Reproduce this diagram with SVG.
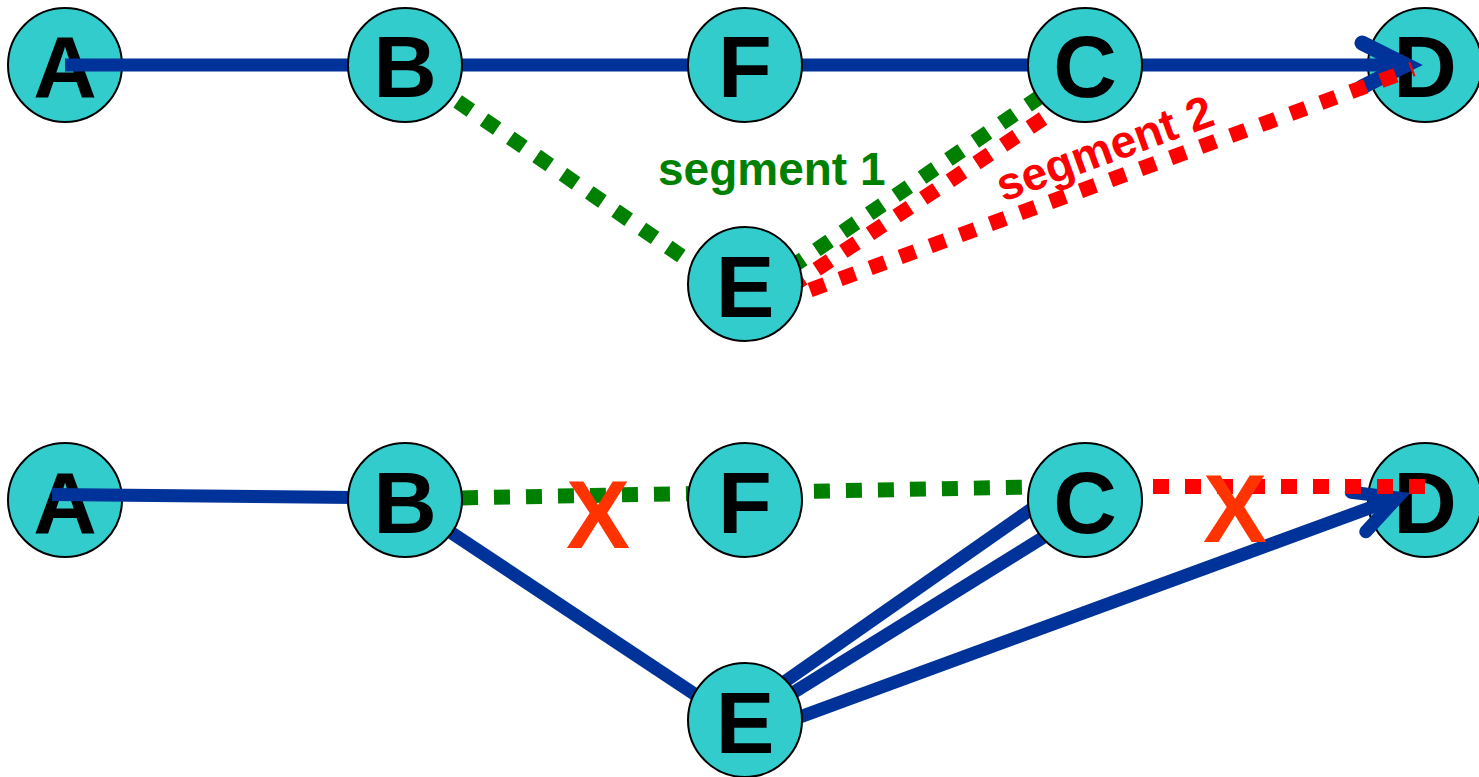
<svg xmlns="http://www.w3.org/2000/svg" width="1479" height="777" viewBox="0 0 1479 777">
<defs>
<style>
.node circle{fill:#33CCCC;stroke:#000;stroke-width:2}
.node text{font-family:"Liberation Sans",Arial,sans-serif;font-weight:bold;font-size:88px;text-anchor:middle;fill:#000}
.blue{stroke:#003399;fill:none;stroke-width:13}
.dot{fill:none;stroke-width:15;stroke-dasharray:16 16}
.green{stroke:#008000}
.red{stroke:#FF0000}
.seg{font-family:"Liberation Sans",Arial,sans-serif;font-weight:bold;font-size:46px}
.xmark{font-family:"Liberation Sans",Arial,sans-serif;font-weight:bold;font-size:96px;fill:#FF3300;text-anchor:middle}
</style>
<marker id="arrowTop" markerUnits="userSpaceOnUse" viewBox="-60 -30 70 60" markerWidth="70" markerHeight="60" refX="0" refY="0" orient="auto" overflow="visible">
<path d="M-44,-22 L0,0 L-44,22" fill="none" stroke="#003399" stroke-width="15" stroke-linecap="round" stroke-linejoin="miter"/>
</marker>
<marker id="arrowBot" markerUnits="userSpaceOnUse" viewBox="-60 -30 70 60" markerWidth="70" markerHeight="60" refX="0" refY="0" orient="auto" overflow="visible">
<path d="M-41,-21 L0,0 L-41,21" fill="none" stroke="#003399" stroke-width="13" stroke-linecap="round" stroke-linejoin="miter"/>
</marker>
</defs>
<rect width="1479" height="777" fill="#fff"/>

<g id="top-A" class="node"><circle cx="65" cy="65" r="57"/><text x="65" y="97">A</text></g>
<g id="top-D" class="node"><circle cx="1425" cy="65" r="57"/><text x="1425" y="97">D</text></g>
<g id="bot-A" class="node"><circle cx="65" cy="500" r="57"/><text x="65" y="533">A</text></g>
<g id="bot-D" class="node"><circle cx="1425" cy="500" r="57"/><text x="1425" y="533">D</text></g>

<g id="connectors">
<line class="blue" x1="65" y1="65" x2="1406" y2="65" stroke-width="15" marker-end="url(#arrowTop)"/>
<line class="dot green" x1="405" y1="65" x2="700" y2="269"/>
<line class="dot green" x1="790" y1="268" x2="1085" y2="66"/>
<line class="dot red" x1="790" y1="287" x2="1062" y2="106"/>
<line class="dot red" x1="780" y1="301" x2="1413" y2="69"/>

<line class="blue" x1="52" y1="494.5" x2="405" y2="498"/>
<line class="blue" x1="405" y1="502" x2="720" y2="711"/>
<line class="blue" x1="770" y1="692" x2="1050" y2="496"/>
<line class="blue" x1="770" y1="707" x2="1060" y2="527"/>
<line class="blue" x1="790" y1="720.6" x2="1397" y2="497.9" marker-end="url(#arrowBot)"/>
<line class="dot green" x1="405" y1="499" x2="1085" y2="486" stroke-dashoffset="7"/>
<line class="dot red" x1="1153" y1="486.5" x2="1425" y2="486.5"/>
</g>

<g id="top-B" class="node"><circle cx="405" cy="65" r="57"/><text x="405" y="97">B</text></g>
<g id="top-F" class="node"><circle cx="745" cy="65" r="57"/><text x="745" y="97">F</text></g>
<g id="top-C" class="node"><circle cx="1085" cy="65" r="57"/><text x="1085" y="97">C</text></g>
<g id="top-E" class="node"><circle cx="745" cy="284" r="57"/><text x="745" y="317">E</text></g>
<g id="bot-B" class="node"><circle cx="405" cy="500" r="57"/><text x="405" y="533">B</text></g>
<g id="bot-F" class="node"><circle cx="745" cy="500" r="57"/><text x="745" y="533">F</text></g>
<g id="bot-C" class="node"><circle cx="1085" cy="500" r="57"/><text x="1085" y="533">C</text></g>
<g id="bot-E" class="node"><circle cx="745" cy="720" r="57"/><text x="745" y="753">E</text></g>

<g id="labels">
<text class="seg" x="658" y="185" fill="#008000">segment 1</text>
<text class="seg" transform="translate(1003,202) rotate(-20)" fill="#FF0000">segment 2</text>
<text class="xmark" x="598" y="548">X</text>
<text class="xmark" x="1235" y="542">X</text>
</g>
</svg>
